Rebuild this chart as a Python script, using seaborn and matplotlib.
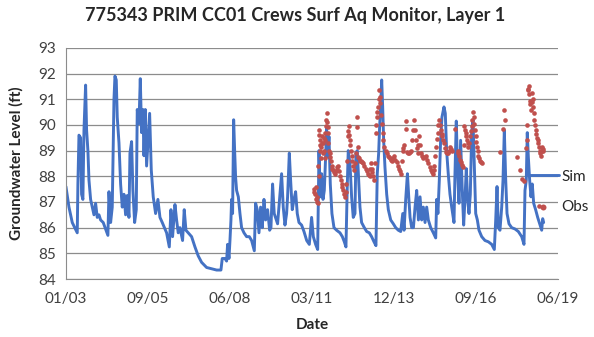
import pandas as pd
import matplotlib
matplotlib.use("Agg")
import matplotlib.pyplot as plt
import matplotlib.dates as mdates
import seaborn as sns

# days counted from 01/01/2003, levels in ft
start = pd.Timestamp("2003-01-01")

sim_day = [0, 37, 77, 138, 146, 159, 179, 191, 207, 220, 240, 252, 268, 281, 301, 321, 342, 362,
           382, 403, 423, 455, 484, 512, 525, 545, 565, 586, 598, 614, 626, 647, 667, 687, 708,
           728, 748, 769, 781, 801, 817, 838, 858, 870, 891, 907, 923, 939, 952, 968, 984, 1004,
           1021, 1041, 1065, 1094, 1122, 1147, 1175, 1228, 1261, 1281, 1301, 1330, 1350, 1370,
           1391, 1423, 1443, 1464, 1492, 1533, 1574, 1614, 1655, 1716, 1777, 1838, 1891, 1907,
           1940, 1960, 1972, 1989, 2001, 2013, 2021, 2033, 2046, 2058, 2070, 2082, 2103, 2123,
           2143, 2172, 2204, 2237, 2265, 2298, 2314, 2334, 2355, 2375, 2395, 2416, 2436, 2460,
           2485, 2501, 2521, 2541, 2562, 2582, 2611, 2631, 2651, 2672, 2692, 2704, 2725, 2741,
           2761, 2782, 2802, 2822, 2843, 2875, 2904, 2937, 2969, 2997, 3018, 3046, 3071, 3087,
           3103, 3119, 3136, 3152, 3168, 3180, 3193, 3209, 3225, 3245, 3270, 3302, 3343, 3372,
           3396, 3416, 3432, 3444, 3465, 3485, 3505, 3526, 3538, 3554, 3571, 3587, 3607, 3640,
           3669, 3701, 3729, 3758, 3782, 3798, 3815, 3827, 3839, 3852, 3864, 3876, 3892, 3913,
           3933, 3962, 3994, 4023, 4055, 4084, 4109, 4125, 4145, 4166, 4182, 4198, 4218, 4239,
           4259, 4279, 4300, 4320, 4340, 4360, 4381, 4401, 4421, 4450, 4482, 4511, 4523, 4538,
           4555, 4571, 4587, 4612, 4628, 4644, 4664, 4685, 4706, 4734, 4746, 4762, 4779, 4795,
           4815, 4835, 4852, 4868, 4884, 4901, 4917, 4933, 4950, 4966, 4982, 4999, 5019, 5039,
           5072, 5112, 5153, 5194, 5226, 5243, 5259, 5275, 5295, 5316, 5332, 5348, 5365, 5381,
           5405, 5438, 5478, 5519, 5560, 5588, 5600, 5616, 5628, 5641, 5657, 5673, 5689, 5706,
           5730, 5755, 5779, 5804, 5816, 5828]
sim_level = [87.6, 86.8, 86.2, 85.8, 87.7, 89.6, 89.5, 87.3, 87.1, 89.8, 91.55, 89.8, 89.0, 87.85,
             87.1, 86.8, 86.5, 86.95, 86.4, 86.5, 86.3, 86.2, 85.95, 85.7, 87.4, 86.2, 86.8, 91.0,
             91.9, 91.75, 90.3, 89.3, 87.7, 86.8, 87.3, 86.5, 87.25, 86.4, 88.9, 89.35, 87.45,
             86.2, 86.7, 90.6, 90.05, 91.8, 89.7, 90.6, 88.8, 90.6, 88.4, 89.55, 90.45, 88.25,
             87.2, 86.55, 87.1, 86.4, 86.2, 85.8, 85.25, 86.7, 85.65, 86.9, 86.3, 85.8, 86.0,
             85.5, 86.7, 85.9, 85.8, 85.65, 85.25, 84.9, 84.65, 84.45, 84.4, 84.35, 84.35, 84.8,
             84.8, 84.7, 85.35, 84.8, 85.5, 86.3, 87.1, 86.55, 90.2, 89.0, 87.95, 87.45, 87.2,
             86.55, 86.0, 85.8, 85.65, 85.65, 85.5, 85.1, 86.95, 86.7, 85.8, 86.8, 86.0, 87.1,
             86.3, 86.7, 85.9, 86.0, 87.7, 86.55, 86.35, 86.15, 87.3, 88.1, 86.8, 86.1, 86.55,
             87.2, 88.9, 87.85, 86.7, 87.1, 87.4, 86.55, 86.2, 86.1, 85.85, 85.5, 85.35, 86.4,
             85.65, 85.35, 85.15, 89.0, 87.2, 88.1, 87.1, 87.45, 88.75, 89.9, 88.75, 89.55, 87.7,
             86.55, 86.0, 85.9, 85.8, 85.65, 85.45, 85.25, 87.6, 89.0, 88.5, 87.2, 86.4, 86.55,
             88.9, 89.0, 87.85, 86.8, 86.2, 86.0, 85.85, 85.8, 85.65, 85.45, 85.3, 88.1, 88.9,
             89.95, 90.7, 91.75, 90.7, 89.4, 88.35, 87.3, 86.7, 86.3, 86.15, 86.0, 85.9, 85.85,
             86.55, 85.9, 87.1, 88.1, 87.2, 86.4, 86.0, 86.0, 86.8, 87.45, 86.3, 87.2, 86.3, 86.8,
             86.2, 86.8, 86.3, 86.0, 85.8, 85.6, 87.1, 86.55, 87.85, 89.4, 90.3, 90.7, 90.45,
             89.0, 88.1, 87.3, 86.8, 86.2, 88.1, 90.15, 88.1, 86.95, 89.4, 87.45, 86.1, 87.1,
             88.3, 87.1, 86.55, 87.3, 89.7, 90.2, 88.4, 86.55, 86.3, 85.9, 85.65, 85.5, 85.45,
             85.35, 85.15, 86.3, 87.6, 86.0, 85.9, 86.8, 87.85, 89.8, 87.85, 86.55, 86.15, 86.0,
             85.95, 85.85, 85.65, 85.35, 87.45, 87.85, 89.7, 88.75, 87.85, 87.2, 87.7, 86.95,
             86.7, 86.4, 86.15, 85.9, 86.35, 86.2]

obs_day = [3022, 3030, 3038, 3046, 3052, 3058, 3066, 3074, 3078, 3083, 3087, 3091, 3095, 3099,
           3105, 3111, 3115, 3119, 3125, 3131, 3137, 3144, 3150, 3155, 3160, 3166, 3172, 3178,
           3184, 3188, 3192, 3196, 3202, 3209, 3217, 3225, 3233, 3241, 3251, 3261, 3271, 3282,
           3292, 3302, 3312, 3322, 3332, 3343, 3353, 3363, 3373, 3384, 3394, 3404, 3412, 3420,
           3428, 3437, 3443, 3449, 3455, 3461, 3469, 3477, 3485, 3493, 3503, 3514, 3526, 3538,
           3547, 3551, 3557, 3565, 3575, 3588, 3598, 3612, 3626, 3640, 3655, 3668, 3680, 3694,
           3709, 3715, 3721, 3729, 3737, 3748, 3762, 3770, 3778, 3784, 3790, 3800, 3811, 3817,
           3823, 3829, 3835, 3843, 3852, 3862, 3872, 3886, 3901, 3913, 3925, 3940, 3953, 3968,
           3982, 3994, 4006, 4020, 4035, 4050, 4064, 4076, 4088, 4098, 4108, 4118, 4129, 4145,
           4147, 4162, 4174, 4186, 4198, 4210, 4225, 4239, 4251, 4259, 4267, 4279, 4291, 4300,
           4312, 4322, 4332, 4346, 4361, 4375, 4389, 4405, 4422, 4436, 4450, 4462, 4475, 4485,
           4495, 4505, 4516, 4526, 4536, 4544, 4552, 4562, 4572, 4582, 4593, 4603, 4613, 4623,
           4633, 4645, 4657, 4670, 4685, 4700, 4714, 4746, 4779, 4787, 4795, 4807, 4819, 4831,
           4844, 4852, 4860, 4868, 4876, 4884, 4892, 4900, 4909, 4921, 4933, 4941, 4950, 4958,
           4966, 4974, 4982, 4990, 4999, 5007, 5015, 5023, 5031, 5041, 5051, 5061, 5072, 5295,
           5336, 5348, 5360, 5499, 5539, 5568, 5584, 5612, 5624, 5628, 5633, 5641, 5649, 5655,
           5661, 5667, 5673, 5681, 5689, 5695, 5702, 5708, 5714, 5722, 5730, 5738, 5746, 5755,
           5763, 5771, 5775, 5779, 5787, 5795, 5803, 5812, 5818, 5824]
obs_level = [87.5, 87.4, 87.3, 87.6, 87.1, 87.2, 87.0, 86.95, 88.4, 88.0, 89.8, 89.6, 89.2, 89.4,
             89.0, 89.15, 88.7, 89.55, 89.3, 89.3, 88.9, 89.0, 89.5, 88.7, 89.4, 89.7, 89.95,
             90.2, 90.45, 90.1, 89.9, 89.7, 89.3, 89.0, 88.9, 88.75, 88.6, 88.4, 88.3, 88.25,
             88.15, 88.1, 88.2, 88.25, 88.35, 88.4, 88.2, 88.0, 87.85, 87.7, 87.6, 87.45, 87.3,
             87.2, 87.4, 87.7, 88.6, 89.55, 89.75, 89.95, 89.6, 89.4, 89.2, 89.0, 88.8, 88.6,
             88.4, 88.25, 88.5, 88.9, 90.3, 89.9, 89.15, 88.75, 88.7, 88.6, 88.6, 88.55, 88.5,
             88.4, 88.3, 88.2, 88.1, 88.05, 88.0, 88.3, 88.5, 88.3, 88.15, 88.0, 87.85, 88.5,
             89.7, 90.0, 90.3, 90.5, 90.7, 91.0, 91.35, 91.1, 90.85, 90.4, 90.05, 89.7, 89.4,
             89.15, 89.0, 88.9, 88.8, 88.75, 88.7, 88.65, 88.6, 88.7, 88.8, 88.65, 88.55, 88.4,
             88.3, 88.2, 88.1, 88.6, 89.1, 89.0, 89.2, 90.15, 89.85, 88.95, 88.9, 88.9, 88.95,
             89.0, 89.4, 89.8, 90.2, 89.8, 89.4, 89.1, 88.9, 89.2, 89.55, 89.2, 88.9, 88.8, 88.7,
             88.75, 88.8, 88.65, 88.5, 88.35, 88.25, 88.15, 88.1, 88.25, 88.4, 88.8, 89.15, 89.45,
             89.7, 90.0, 90.2, 90.0, 89.8, 89.65, 89.55, 89.4, 89.3, 89.1, 88.95, 88.9, 88.9,
             89.0, 89.15, 89.05, 89.0, 89.85, 89.0, 88.9, 88.8, 88.65, 88.55, 88.45, 88.35, 89.2,
             89.95, 89.8, 89.7, 89.55, 89.4, 89.3, 89.15, 89.3, 89.55, 89.75, 89.95, 90.2, 90.5,
             90.3, 90.05, 89.8, 89.55, 89.35, 89.15, 89.0, 88.8, 88.7, 88.6, 88.55, 88.5, 88.95,
             89.85, 90.6, 90.2, 88.75, 88.25, 87.9, 87.8, 89.1, 89.4, 90.0, 91.35, 91.4, 91.5,
             91.2, 90.95, 90.8, 90.6, 90.9, 91.25, 91.0, 90.7, 90.45, 90.2, 90.0, 89.8, 89.65,
             89.5, 89.4, 89.3, 89.15, 86.85, 89.0, 88.9, 88.8, 89.0, 89.15, 89.05, 89.0]

sim = pd.DataFrame({"date": start + pd.to_timedelta(sim_day, unit="D"), "level": sim_level})
obs = pd.DataFrame({"date": start + pd.to_timedelta(obs_day, unit="D"), "level": obs_level})

sns.set_style("white")
plt.rcParams["font.family"] = ["Lato", "DejaVu Sans"]

fig = plt.figure(figsize=(5.94, 3.37), dpi=100)
ax = fig.add_axes([0.111, 0.172, 0.828, 0.686])

sns.lineplot(data=sim, x="date", y="level", color="#4472c4", linewidth=2.1, ax=ax, label="Sim")
sns.scatterplot(data=obs, x="date", y="level", color="#c0504d", s=11, linewidth=0,
                ax=ax, label="Obs", zorder=3)

ax.set_xlim(start, start + pd.Timedelta(days=6000))
ax.set_xticks([start + pd.Timedelta(days=d) for d in range(0, 6001, 1000)])
ax.xaxis.set_major_formatter(mdates.DateFormatter("%m/%y"))
ax.set_ylim(84, 93)
ax.set_yticks(range(84, 94))
ax.grid(axis="y", color="#8c8c8c", linewidth=0.9)
ax.set_axisbelow(True)

for side in ["top", "right"]:
    ax.spines[side].set_visible(False)
for side in ["left", "bottom"]:
    ax.spines[side].set_color("#8c8c8c")
ax.tick_params(axis="both", direction="out", length=4, color="#8c8c8c",
               labelsize=11, labelcolor="#404040")
ax.tick_params(axis="x", pad=5)

fig.text(0.497, 0.955, "775343 PRIM CC01 Crews Surf Aq Monitor, Layer 1", fontsize=13,
         fontweight="bold", ha="center", va="center")
ax.set_xlabel("Date", fontsize=11, fontweight="bold", labelpad=9)
ax.set_ylabel("Groundwater Level (ft)", fontsize=11, fontweight="bold", labelpad=10)

ax.legend(loc="upper left", bbox_to_anchor=(0.889, 0.497), bbox_transform=fig.transFigure,
          frameon=False, fontsize=11, handlelength=2, handletextpad=0.2,
          labelspacing=1.05, borderpad=0, borderaxespad=0, markerscale=1.3)

fig.savefig("out.png", dpi=100)
